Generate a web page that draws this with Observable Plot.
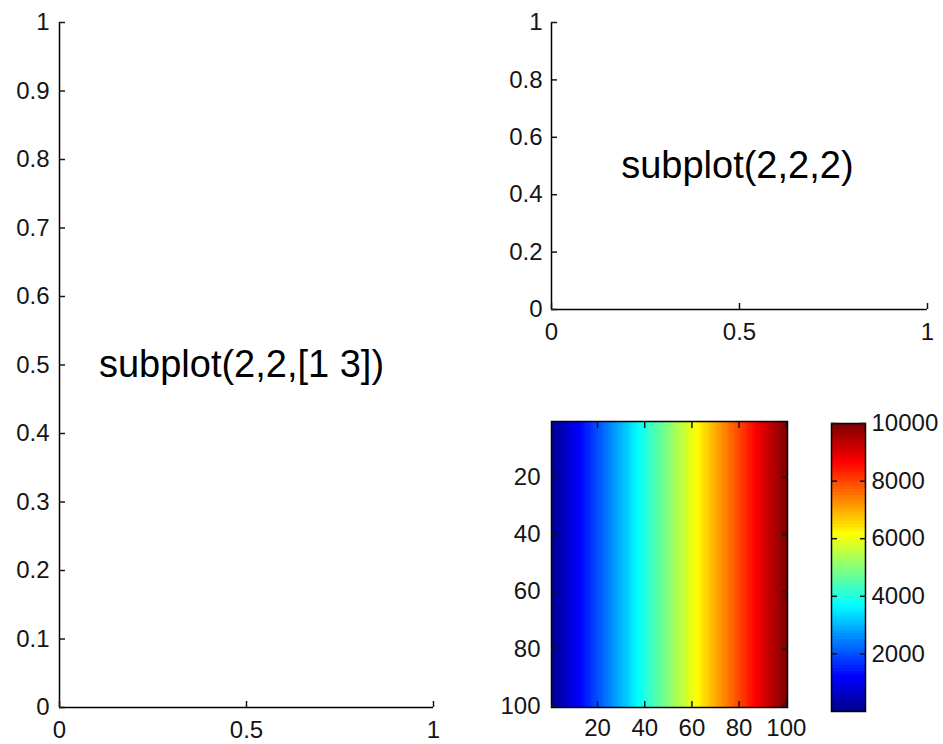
<!DOCTYPE html>
<html>
<head>
<meta charset="utf-8">
<script src="https://cdn.jsdelivr.net/npm/d3@7"></script>
<script src="https://cdn.jsdelivr.net/npm/@observablehq/plot@0.6"></script>
<style>
  html, body { margin: 0; padding: 0; background: #fff; }
  #fig { position: relative; width: 943px; height: 744px; overflow: hidden; background: #fff; }
  #fig svg { position: absolute; left: 0; top: 0; }
</style>
</head>
<body>
<div id="fig"></div>
<script>
// ---------------- data ----------------
const unitXTicks = [0, 0.5, 1];
const leftYTicks = [0, 0.1, 0.2, 0.3, 0.4, 0.5, 0.6, 0.7, 0.8, 0.9, 1];
const rightYTicks = [0, 0.2, 0.4, 0.6, 0.8, 1];
const panelLabels = ["subplot(2,2,[1 3])", "subplot(2,2,2)"];
const labelX = [0.1, 0.18];
const labelY = [0.5, 0.5];
const imageColumns = [1,2,3,4,5,6,7,8,9,10,11,12,13,14,15,16,17,18,19,20,
  21,22,23,24,25,26,27,28,29,30,31,32,33,34,35,36,37,38,39,40,
  41,42,43,44,45,46,47,48,49,50,51,52,53,54,55,56,57,58,59,60,
  61,62,63,64,65,66,67,68,69,70,71,72,73,74,75,76,77,78,79,80,
  81,82,83,84,85,86,87,88,89,90,91,92,93,94,95,96,97,98,99,100];
const imageValues = [100,200,300,400,500,600,700,800,900,1000,
  1100,1200,1300,1400,1500,1600,1700,1800,1900,2000,
  2100,2200,2300,2400,2500,2600,2700,2800,2900,3000,
  3100,3200,3300,3400,3500,3600,3700,3800,3900,4000,
  4100,4200,4300,4400,4500,4600,4700,4800,4900,5000,
  5100,5200,5300,5400,5500,5600,5700,5800,5900,6000,
  6100,6200,6300,6400,6500,6600,6700,6800,6900,7000,
  7100,7200,7300,7400,7500,7600,7700,7800,7900,8000,
  8100,8200,8300,8400,8500,8600,8700,8800,8900,9000,
  9100,9200,9300,9400,9500,9600,9700,9800,9900,10000];
const imageRowLimits = [0.5, 100.5];
const imageXLimits = [0.5, 100.5];
const imageTicks = [20, 40, 60, 80, 100];
const colorbarTicks = [2000, 4000, 6000, 8000, 10000];
const colorbarLimits = [0, 10000];
// jet colormap anchor points (value -> colour)
const jetStops = [100, 1260, 3735, 6210, 8685, 10000];
const jetColors = ["#000090", "#0000ff", "#00ffff", "#ffff00", "#ff0000", "#800000"];

// ---------------- tables ----------------
const imageTable = imageColumns.map((c, i) => ({col: c, value: imageValues[i]}));
const stripeTable = d3.pairs([colorbarLimits[0], ...imageValues]).map(([a, b]) => ({y1: a, y2: b, value: b}));
const leftLabel = [{x: labelX[0], y: labelY[0], text: panelLabels[0]}];
const rightLabel = [{x: labelX[1], y: labelY[1], text: panelLabels[1]}];

// ---------------- layout ----------------
const W = 943, H = 744;
const FONT = "'Liberation Sans', Arial, Helvetica, sans-serif";
const style = {fontFamily: FONT, fontSize: "24px", color: "#151515", background: "transparent", overflow: "visible"};
const fmt = d => String(d);
const colorScale = {type: "linear", domain: jetStops, range: jetColors, interpolate: "rgb", clamp: true, legend: false};
const fig = document.getElementById("fig");
function frameMargins(l, r, t, b) {
  return {width: W, height: H, marginLeft: l, marginRight: W - r, marginTop: t, marginBottom: H - b};
}
const TS = -6; // inward ticks

// left tall panel
fig.append(Plot.plot({
  ...frameMargins(59, 433, 22, 707),
  style,
  x: {domain: [0, 1], label: null},
  y: {domain: [0, 1], label: null},
  marks: [
    Plot.ruleX([0], {stroke: "#000", strokeWidth: 1.5}),
    Plot.ruleY([0], {stroke: "#000", strokeWidth: 1.5}),
    Plot.axisY(leftYTicks, {tickSize: TS, tickPadding: 16, tickFormat: fmt, strokeWidth: 1.5}),
    Plot.axisX(unitXTicks, {tickSize: TS, tickPadding: 19, tickFormat: fmt, strokeWidth: 1.5}),
    Plot.text(leftLabel, {x: "x", y: "y", text: "text", textAnchor: "start", fontSize: 38, dx: 2, fill: "#000"})
  ]
}));

// top right panel
fig.append(Plot.plot({
  ...frameMargins(551, 927, 22, 309),
  style,
  x: {domain: [0, 1], label: null},
  y: {domain: [0, 1], label: null},
  marks: [
    Plot.ruleX([0], {stroke: "#000", strokeWidth: 1.5}),
    Plot.ruleY([0], {stroke: "#000", strokeWidth: 1.5}),
    Plot.axisY(rightYTicks, {tickSize: TS, tickPadding: 15, tickFormat: fmt, strokeWidth: 1.5}),
    Plot.axisX(unitXTicks, {tickSize: TS, tickPadding: 19, tickFormat: fmt, strokeWidth: 1.5}),
    Plot.text(rightLabel, {x: "x", y: "y", text: "text", textAnchor: "start", fontSize: 38, dx: 2, fill: "#000"})
  ]
}));

// image panel
fig.append(Plot.plot({
  ...frameMargins(551, 787, 421, 707),
  style,
  x: {domain: imageXLimits, label: null},
  y: {domain: imageRowLimits, reverse: true, label: null},
  color: colorScale,
  marks: [
    Plot.rect(imageTable, {x1: d => d.col - 0.5, x2: d => d.col + 0.5, y1: () => imageRowLimits[0], y2: () => imageRowLimits[1], fill: "value", shapeRendering: "crispEdges"}),
    Plot.frame({stroke: "#000", strokeWidth: 1.5}),
    Plot.axisY(imageTicks, {anchor: "left", tickSize: TS, tickPadding: 17, tickFormat: fmt, strokeWidth: 1.5}),
    Plot.axisY(imageTicks, {anchor: "right", tickSize: TS, tickFormat: () => "", strokeWidth: 1.5}),
    Plot.axisX(imageTicks, {anchor: "bottom", tickSize: TS, tickPadding: 17, tickFormat: fmt, strokeWidth: 1.5}),
    Plot.axisX(imageTicks, {anchor: "top", tickSize: TS, tickFormat: () => "", strokeWidth: 1.5})
  ]
}));

// colorbar
fig.append(Plot.plot({
  ...frameMargins(831, 865, 423, 711),
  style,
  y: {domain: colorbarLimits, label: null},
  color: colorScale,
  marks: [
    Plot.barY(stripeTable, {y1: "y1", y2: "y2", fill: "value", shapeRendering: "crispEdges"}),
    Plot.frame({stroke: "#000", strokeWidth: 1.5}),
    Plot.axisY(colorbarTicks, {anchor: "right", tickSize: TS, tickPadding: 12, tickFormat: fmt, strokeWidth: 1.5}),
    Plot.axisY(colorbarTicks, {anchor: "left", tickSize: TS, tickFormat: () => "", strokeWidth: 1.5})
  ]
}));
</script>
</body>
</html>
